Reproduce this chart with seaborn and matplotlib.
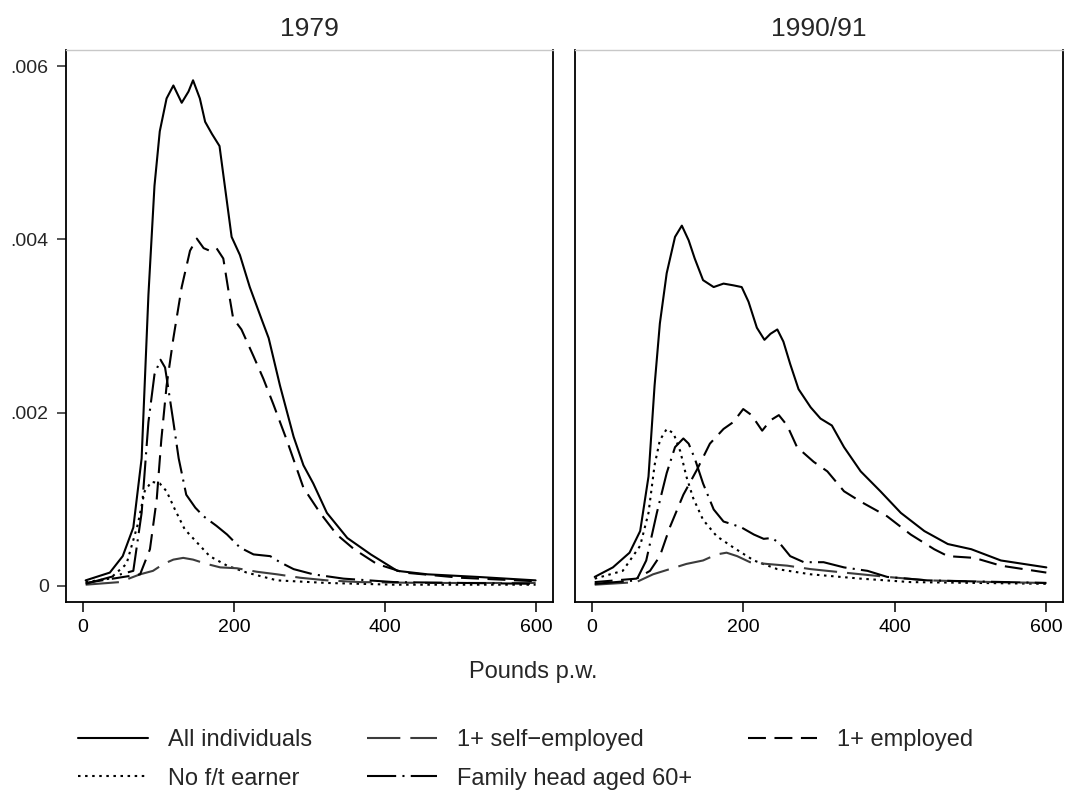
import matplotlib
matplotlib.use("Agg")
import numpy as np
import pandas as pd
import matplotlib.pyplot as plt
import matplotlib.lines as mlines
import seaborn as sns

# --- data (pounds per week, density) ---
groups = ["All individuals", "No f/t earner", "1+ self\u2212employed",
          "Family head aged 60+", "1+ employed"]
panel_titles = ["1979", "1990/91"]
x_ticks = [0, 200, 400, 600]
y_ticks = [0, 0.002, 0.004, 0.006]
y_tick_labels = ["0", ".002", ".004", ".006"]

# 1979
x79_all = [4, 36, 53, 67, 78, 87, 95, 102, 111, 120, 131, 140, 146, 155, 162, 171, 181, 188, 197, 208,
           221, 237, 246, 261, 279, 292, 305, 323, 350, 381, 416, 456, 522, 599]
y79_all = [0.00006, 0.00015, 0.00034, 0.00067, 0.00147, 0.00336, 0.00462, 0.00525, 0.00563, 0.00578,
           0.00558, 0.00571, 0.00584, 0.00563, 0.00536, 0.00522, 0.00508, 0.00462, 0.00403, 0.00382,
           0.00345, 0.00307, 0.00286, 0.00231, 0.00172, 0.00139, 0.00118, 0.00084, 0.00055, 0.00036,
           0.00017, 0.00013, 0.0001, 0.00006]
x79_emp = [4, 76, 89, 98, 104, 111, 120, 131, 142, 151, 160, 168, 177, 186, 193, 199, 210, 226, 239,
           252, 270, 292, 314, 336, 359, 389, 425, 500, 599]
y79_emp = [0.00003, 0.00013, 0.00042, 0.001, 0.00168, 0.00231, 0.00286, 0.00345, 0.00387, 0.00401,
           0.0039, 0.00387, 0.0039, 0.00378, 0.0034, 0.00309, 0.00296, 0.00265, 0.00239, 0.0021,
           0.00168, 0.00113, 0.00084, 0.00059, 0.00042, 0.00025, 0.00015, 0.00009, 0.00005]
x79_old = [4, 67, 78, 87, 95, 103, 109, 115, 120, 127, 137, 149, 160, 177, 191, 208, 226, 248, 261,
           279, 305, 345, 412, 599]
y79_old = [0.00002, 0.00017, 0.00084, 0.00189, 0.00244, 0.00261, 0.00252, 0.00218, 0.00189, 0.00147,
           0.00105, 0.0009, 0.0008, 0.00069, 0.00059, 0.00044, 0.00036, 0.00034, 0.00027, 0.00019,
           0.00013, 0.00008, 0.00004, 0.00002]
x79_noft = [4, 36, 58, 73, 82, 91, 102, 111, 122, 135, 151, 168, 191, 217, 257, 323, 412, 599]
y79_noft = [0.00004, 0.00008, 0.00025, 0.00071, 0.00109, 0.0012, 0.00118, 0.00109, 0.00088, 0.00065,
            0.0005, 0.00034, 0.00023, 0.00015, 0.00006, 0.00003, 0.00001, 0.00001]
x79_self = [4, 49, 76, 93, 107, 120, 133, 146, 164, 182, 204, 230, 257, 288, 323, 367, 456, 599]
y79_self = [0.00001, 0.00004, 0.00013, 0.00017, 0.00025, 0.0003, 0.00032, 0.0003, 0.00025, 0.00021,
            0.0002, 0.00016, 0.00013, 0.00009, 0.00006, 0.00004, 0.00003, 0.00003]

# 1990/91
x90_all = [4, 28, 50, 64, 75, 83, 90, 99, 110, 119, 128, 136, 147, 161, 174, 187, 198, 207, 218, 228,
           236, 245, 253, 262, 273, 289, 302, 317, 333, 355, 381, 408, 439, 470, 501, 540, 600]
y90_all = [0.0001, 0.00021, 0.00038, 0.00063, 0.00126, 0.00231, 0.00303, 0.00361, 0.00403, 0.00416,
           0.00399, 0.00378, 0.00353, 0.00345, 0.00349, 0.00347, 0.00345, 0.00328, 0.00298, 0.00284,
           0.00291, 0.00296, 0.00282, 0.00256, 0.00227, 0.00206, 0.00193, 0.00185, 0.0016, 0.00132,
           0.00109, 0.00084, 0.00063, 0.00048, 0.00042, 0.00029, 0.00021]
x90_emp = [4, 59, 77, 90, 103, 121, 139, 156, 174, 187, 200, 211, 225, 236, 247, 258, 271, 293, 311,
           333, 355, 390, 421, 452, 470, 505, 540, 600]
y90_emp = [0.00004, 0.00008, 0.00017, 0.00034, 0.00067, 0.00105, 0.00134, 0.00164, 0.00181, 0.00189,
           0.00204, 0.00197, 0.00179, 0.00191, 0.00197, 0.00185, 0.0016, 0.00143, 0.00132, 0.00109,
           0.00097, 0.0008, 0.00059, 0.00042, 0.00034, 0.00032, 0.00023, 0.00015]
x90_noft = [4, 41, 64, 75, 83, 90, 99, 108, 117, 125, 134, 147, 165, 187, 214, 245, 289, 355, 421, 600]
y90_noft = [0.00008, 0.00017, 0.00046, 0.00084, 0.00139, 0.00168, 0.00181, 0.00176, 0.00155, 0.00126,
            0.00101, 0.00076, 0.00057, 0.00044, 0.00029, 0.00019, 0.00013, 0.00008, 0.00004, 0.00002]
x90_old = [4, 59, 72, 86, 99, 110, 121, 128, 136, 147, 161, 174, 185, 198, 214, 227, 238, 249, 262,
           280, 306, 333, 364, 390, 443, 600]
y90_old = [0.00002, 0.00006, 0.00029, 0.00084, 0.0013, 0.0016, 0.0017, 0.00164, 0.00147, 0.00118,
           0.00088, 0.00074, 0.00071, 0.00067, 0.00059, 0.00054, 0.00055, 0.00048, 0.00034, 0.00027,
           0.00027, 0.00021, 0.00017, 0.0001, 0.00006, 0.00003]
x90_self = [4, 59, 81, 103, 125, 147, 165, 178, 192, 209, 231, 258, 289, 333, 390, 443, 532, 600]
y90_self = [0.00001, 0.00004, 0.00013, 0.00019, 0.00025, 0.00029, 0.00036, 0.00038, 0.00034, 0.00027,
            0.00025, 0.00023, 0.00019, 0.00015, 0.0001, 0.00006, 0.00004, 0.00003]


def to_long(series):
    frames = []
    for g, (xs, ys) in series.items():
        frames.append(pd.DataFrame({"pounds": xs, "density": ys, "group": g}))
    return pd.concat(frames, ignore_index=True)


df79 = to_long({groups[0]: (x79_all, y79_all), groups[1]: (x79_noft, y79_noft),
                groups[2]: (x79_self, y79_self), groups[3]: (x79_old, y79_old),
                groups[4]: (x79_emp, y79_emp)})
df90 = to_long({groups[0]: (x90_all, y90_all), groups[1]: (x90_noft, y90_noft),
                groups[2]: (x90_self, y90_self), groups[3]: (x90_old, y90_old),
                groups[4]: (x90_emp, y90_emp)})

# styles (dash lengths in linewidth units)
dash_map = {groups[0]: "", groups[1]: (1.2, 2.2), groups[2]: (16, 4.8),
            groups[3]: (14, 3, 1, 3), groups[4]: (8.6, 4.1)}
palette = {groups[0]: "black", groups[1]: "black", groups[2]: "#3c3c3c",
           groups[3]: "black", groups[4]: "black"}

sns.set_style("ticks")
plt.rcParams["font.family"] = ["Liberation Sans", "DejaVu Sans"]

fig = plt.figure(figsize=(10.66, 7.98), dpi=100)
ax1 = fig.add_axes([66 / 1066, 1 - 602 / 798, 487 / 1066, 552 / 798])
ax2 = fig.add_axes([575 / 1066, 1 - 602 / 798, 488 / 1066, 552 / 798])

lw = 1.5
for ax, df, title in [(ax1, df79, panel_titles[0]), (ax2, df90, panel_titles[1])]:
    sns.lineplot(data=df, x="pounds", y="density", hue="group", style="group",
                 hue_order=groups, style_order=groups, palette=palette, dashes=dash_map,
                 estimator=None, sort=False, lw=lw, ax=ax, legend=False)
    ax.set_xlim(-22, 622)
    ax.set_ylim(-0.00019, 0.00619)
    ax.set_xticks(x_ticks)
    ax.set_xticklabels([str(t) for t in x_ticks], fontsize=14)
    ax.set_xlabel("")
    ax.set_ylabel("")
    ax.set_title(title, fontsize=19, pad=10)
    for side in ["left", "right", "bottom"]:
        ax.spines[side].set_visible(True)
        ax.spines[side].set_color("black")
        ax.spines[side].set_linewidth(1.3)
    ax.spines["top"].set_visible(True)
    ax.spines["top"].set_color("#c8c8c8")
    ax.spines["top"].set_linewidth(1.0)
    ax.tick_params(axis="x", direction="out", length=7, width=1.1, pad=5, colors="black")

ax1.set_yticks(y_ticks)
ax1.set_yticklabels(y_tick_labels, fontsize=14)
ax1.tick_params(axis="y", direction="out", length=6.5, width=1.1, pad=6)
ax2.set_yticks([])

fig.text(0.5, 1 - 672 / 798, "Pounds p.w.", ha="center", va="center", fontsize=17)

handles = [mlines.Line2D([], [], color=palette[g], lw=lw,
                         linestyle="-" if dash_map[g] == "" else (0, dash_map[g]))
           for g in groups]
fig.legend(handles, groups, ncol=3, loc="upper left", frameon=False,
           bbox_to_anchor=(78 / 1066, 1 - 729 / 798), fontsize=17,
           handlelength=2.95, handletextpad=0.85, columnspacing=2.35, labelspacing=0.7,
           borderpad=0, borderaxespad=0)

fig.savefig("out.png", dpi=100, facecolor="white")
